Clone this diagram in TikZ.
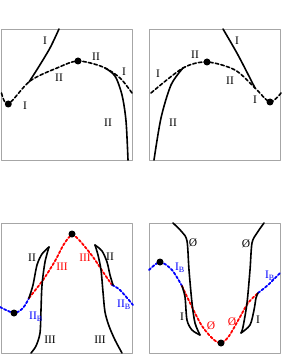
\documentclass[tikz,border=0pt]{standalone}
\usepackage{fontspec}
\setmainfont{Liberation Serif}
\tikzset{
  panel/.style={draw=black!35, line width=0.9pt},
  branch/.style={line width=1.6pt},
  envelope/.style={line width=1.6pt, dash pattern=on 3.5pt off 2.2pt},
  redenv/.style={red, line width=1.8pt, dash pattern=on 2.5pt off 2pt},
  blueenv/.style={blue, line width=1.8pt, dash pattern=on 2.5pt off 2pt},
  spot/.style={circle, fill=black, inner sep=0pt, minimum size=7pt},
  lab/.style={inner sep=0pt, font=\fontsize{11.5}{13}\selectfont}
}
\begin{document}
\begin{tikzpicture}[x=1pt, y=-1pt, line cap=round, line join=round]
  \useasboundingbox (0,0) rectangle (282,355);
  % Panels
  \draw[panel] (1,29) rectangle (132.5,160.5);
  \draw[panel] (149.5,29) rectangle (280.5,160.5);
  \draw[panel] (1,223) rectangle (132.5,353);
  \draw[panel] (149.5,223) rectangle (280.5,353);

  % Top left
  \draw[envelope] plot[smooth] coordinates {(1.5,93) (8.3,104) (30,81) (57,68) (78,61) (103,67) (120,78) (132,93)};
  \draw[branch] plot[smooth] coordinates {(59,29) (50,48) (38,68) (29,82)};
  \draw[branch] plot[smooth] coordinates {(105,68) (115,76) (122,95) (126,121) (128,160)};
  \node[spot] (tlmin) at (8.3,104) {};
  \node[spot] (tlmax) at (78,61) {};
  \node[lab] (tla) at (45,41) {I};
  \node[lab] (tlb) at (59,78) {II};
  \node[lab] (tlc) at (25,106) {I};
  \node[lab] (tld) at (96,57) {II};
  \node[lab] (tle) at (124,72) {I};
  \node[lab] (tlf) at (108,123) {II};

  % Top right
  \draw[envelope] plot[smooth] coordinates {(151,93) (183,68) (207,62) (235,70) (255,88) (270,102) (281,93)};
  \draw[branch] plot[smooth] coordinates {(223,29) (238,55) (255,88)};
  \draw[branch] plot[smooth] coordinates {(154,160) (161,118) (171,85) (183,68)};
  \node[spot] (trmax) at (207,62) {};
  \node[spot] (trmin) at (270,102) {};
  \node[lab] (tra) at (158,74) {I};
  \node[lab] (trb) at (195,55) {II};
  \node[lab] (trc) at (237,41) {I};
  \node[lab] (trd) at (230,81) {II};
  \node[lab] (tre) at (255,100) {I};
  \node[lab] (trf) at (173,123) {II};

  % Bottom left
  \draw[blueenv] plot[smooth] coordinates {(0,307) (14,313) (23,308) (29,298)};
  \draw[redenv] plot[smooth] coordinates {(29,298) (43,280) (55,261) (64,244) (72,235) (80,241) (93,257) (103,272) (112,285)};
  \draw[blueenv] plot[smooth] coordinates {(112,285) (120,290) (133,305)};
  \draw[branch] plot[smooth] coordinates {(29,298) (33,285) (37,265) (42,254) (49,247)};
  \draw[branch] plot[smooth] coordinates {(49,247) (45,262) (42,285) (41,310) (40,333) (36,346) (31,353)};
  \draw[branch] plot[smooth] coordinates {(95,245) (102,251) (107,262) (110,275) (113,285)};
  \draw[branch] plot[smooth] coordinates {(95,245) (98,255) (101,270) (103,292) (105,312) (109,326) (115,340) (122,353)};
  \node[spot] (blmin) at (14,313) {};
  \node[spot] (blmax) at (72,234) {};
  \node[lab] (bla) at (32,258) {II};
  \node[lab, red] (blb) at (62,267) {III};
  \node[lab, red] (blc) at (85,258) {III};
  \node[lab] (bld) at (110,257) {II};
  \node[lab, blue] (ble) at (36,317) {II$_{\mathrm{B}}$};
  \node[lab, blue] (blf) at (124,305) {II$_{\mathrm{B}}$};
  \node[lab] (blg) at (50,340) {III};
  \node[lab] (blh) at (100,340) {III};

  % Bottom right
  \draw[blueenv] plot[smooth] coordinates {(149,270) (160,262) (172,270) (182,286)};
  \draw[redenv] plot[smooth] coordinates {(182,286) (192,307) (202,326) (213,339) (221,343) (229,336) (240,317) (248,303) (258,293)};
  \draw[blueenv] plot[smooth] coordinates {(258,293) (268,285) (280,273)};
  \draw[branch] plot[smooth] coordinates {(173,223) (182,232) (187,241) (189,270) (192,303) (195,323) (200,335)};
  \draw[branch] plot[smooth] coordinates {(200,335) (192,330) (187,320) (185,297) (182,286)};
  \draw[branch] plot[smooth] coordinates {(264,223) (257,233) (252,243) (250,270) (247,303) (243,327) (241,333)};
  \draw[branch] plot[smooth] coordinates {(241,333) (250,325) (254,310) (256,298) (258,293)};
  \node[spot] (brmax) at (160,262) {};
  \node[spot] (brmin) at (221,343) {};
  \node[lab] (bra) at (193,243) {Ø};
  \node[lab] (brb) at (246,244) {Ø};
  \node[lab, blue] (brc) at (180,268) {I$_{\mathrm{B}}$};
  \node[lab, blue] (brd) at (270,276) {I$_{\mathrm{B}}$};
  \node[lab] (bre) at (182,317) {I};
  \node[lab] (brf) at (258,320) {I};
  \node[lab, red] (brg) at (211,326) {Ø};
  \node[lab, red] (brh) at (232,322) {Ø};
\end{tikzpicture}
\end{document}
